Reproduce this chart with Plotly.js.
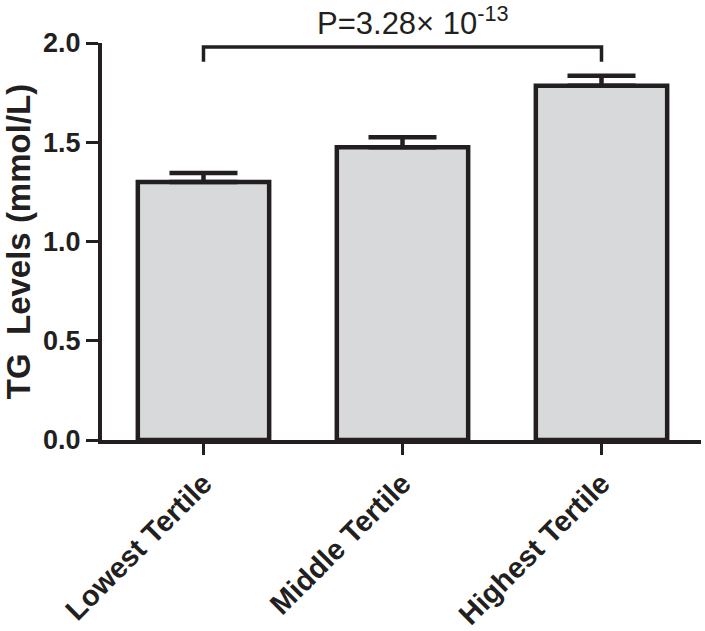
<!DOCTYPE html>
<html>
<head>
<meta charset="utf-8">
<script src="https://cdn.plot.ly/plotly-3.0.1.min.js"></script>
<style>html,body{margin:0;padding:0;background:#fff;}#chart{width:705px;height:631px;}</style>
</head>
<body>
<div id="chart"></div>
<script>
// Data
const categories = ["Lowest Tertile", "Middle Tertile", "Highest Tertile"];
const tgMeans = [1.30, 1.475, 1.785];
const tgSEM = [0.045, 0.05, 0.05];
const yTicks = [0.0, 0.5, 1.0, 1.5, 2.0];
const pText = "P=3.28× 10<sup>-13</sup>";
const bracketFrom = 0, bracketTo = 2;
const bracketTopY = 1.98, bracketEndY = 1.905;

const ink = "#231f20";
const fontFam = "Liberation Sans, Arial, Helvetica, sans-serif";

const trace = {
  type: "bar",
  x: [0, 1, 2],
  y: tgMeans,
  width: 0.66,
  marker: { color: "#d8d9db", line: { color: ink, width: 4.5 } },
  error_y: {
    type: "data", array: tgSEM, arrayminus: [0, 0, 0], symmetric: false,
    color: ink, thickness: 4.5, width: 34, visible: true
  },
  hoverinfo: "skip"
};

const layout = {
  width: 705, height: 631,
  margin: { l: 102, r: 4, t: 43, b: 191 },
  paper_bgcolor: "#ffffff", plot_bgcolor: "#ffffff",
  showlegend: false,
  font: { family: fontFam, color: ink },
  xaxis: {
    range: [-0.51, 2.5],
    tickmode: "array", tickvals: [0, 1, 2], ticktext: categories,
    tickangle: -45,
    tickfont: { family: fontFam, size: 29, weight: "bold", color: ink },
    showline: true, linecolor: ink, linewidth: 4,
    ticks: "outside", ticklen: 11, tickwidth: 3, tickcolor: ink,
    showgrid: false, zeroline: false, fixedrange: true
  },
  yaxis: {
    range: [0, 2.0],
    tickmode: "array", tickvals: yTicks, ticktext: yTicks.map(v => v.toFixed(1)),
    tickfont: { family: fontFam, size: 27, weight: "bold", color: ink },
    showline: true, linecolor: ink, linewidth: 4,
    ticks: "outside", ticklen: 12, tickwidth: 3, tickcolor: ink,
    showgrid: false, zeroline: false, fixedrange: true,
    title: { text: "TG  Levels (mmol/L)", font: { family: fontFam, size: 33, weight: "bold", color: ink }, standoff: 9 }
  },
  shapes: [{
    type: "path", xref: "x", yref: "y",
    path: `M ${bracketFrom} ${bracketEndY} L ${bracketFrom} ${bracketTopY} L ${bracketTo} ${bracketTopY} L ${bracketTo} ${bracketEndY}`,
    line: { color: ink, width: 3.5 }
  }],
  annotations: [{
    xref: "x", yref: "y", x: 0.56, y: 2.0, xanchor: "left", yanchor: "bottom",
    text: pText, showarrow: false,
    font: { family: fontFam, size: 31, color: ink }
  }]
};

Plotly.newPlot("chart", [trace], layout, { displayModeBar: false, staticPlot: true });
</script>
</body>
</html>
